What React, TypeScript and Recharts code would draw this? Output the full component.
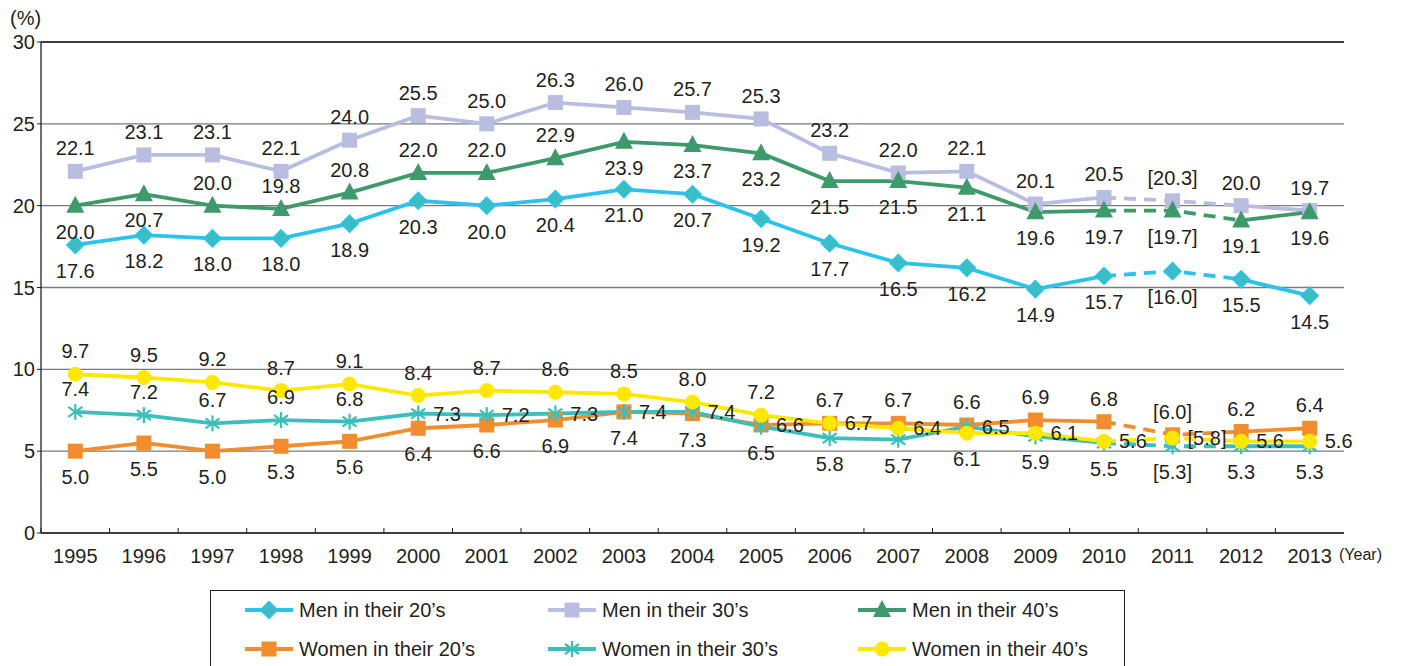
import React from 'react';
import { LineChart, Line, XAxis, YAxis, CartesianGrid, LabelList, ReferenceLine } from 'recharts';

// ---------- data ----------
const years = ['1995', '1996', '1997', '1998', '1999', '2000', '2001', '2002', '2003', '2004', '2005', '2006', '2007', '2008', '2009', '2010', '2011', '2012', '2013'];
const men20 = [17.6, 18.2, 18.0, 18.0, 18.9, 20.3, 20.0, 20.4, 21.0, 20.7, 19.2, 17.7, 16.5, 16.2, 14.9, 15.7, 16.0, 15.5, 14.5];
const men30 = [22.1, 23.1, 23.1, 22.1, 24.0, 25.5, 25.0, 26.3, 26.0, 25.7, 25.3, 23.2, 22.0, 22.1, 20.1, 20.5, 20.3, 20.0, 19.7];
const men40 = [20.0, 20.7, 20.0, 19.8, 20.8, 22.0, 22.0, 22.9, 23.9, 23.7, 23.2, 21.5, 21.5, 21.1, 19.6, 19.7, 19.7, 19.1, 19.6];
const women20 = [5.0, 5.5, 5.0, 5.3, 5.6, 6.4, 6.6, 6.9, 7.4, 7.3, 6.6, 6.7, 6.7, 6.6, 6.9, 6.8, 6.0, 6.2, 6.4];
const women30 = [7.4, 7.2, 6.7, 6.9, 6.8, 7.3, 7.2, 7.3, 7.4, 7.4, 6.5, 5.8, 5.7, 6.5, 5.9, 5.5, 5.3, 5.3, 5.3];
const women40 = [9.7, 9.5, 9.2, 8.7, 9.1, 8.4, 8.7, 8.6, 8.5, 8.0, 7.2, 6.7, 6.4, 6.1, 6.1, 5.6, 5.8, 5.6, 5.6];
const estimatedYears = ['2011'];
const dashedFrom = '2010';
const dashedTo = '2012';
const yTicks = [0, 5, 10, 15, 20, 25, 30];

// ---------- style ----------
const FONT = '"Liberation Sans", Arial, Helvetica, sans-serif';
const TEXT = '#231F20';
const CHART_W = 1402;
const CHART_H = 590;
const MARGIN = { top: 42, right: 58, left: 0, bottom: 27 };
const YAXIS_W = 41;
const BAND = (CHART_W - MARGIN.right - MARGIN.left - YAXIS_W) / years.length;

type Shape = 'diamond' | 'square' | 'triangle' | 'circle' | 'star';
type Place = 't' | 'b' | 'r';

const rep = (p: Place, n: number): Place[] => Array(n).fill(p);

interface Series {
  key: string;
  name: string;
  color: string;
  fill: string;
  values: number[];
  shape: Shape;
  place: Place[];
}

const series: Series[] = [
  { key: 'm30', name: 'Men in their 30’s', color: '#B9BDE0', fill: '#B9BDE0', values: men30, shape: 'square', place: rep('t', 19) },
  { key: 'm40', name: 'Men in their 40’s', color: '#3F9A6B', fill: '#3F9A6B', values: men40, shape: 'triangle', place: [...rep('b', 2), ...rep('t', 6), ...rep('b', 11)] },
  { key: 'm20', name: 'Men in their 20’s', color: '#2BC3EC', fill: '#3ABEC4', values: men20, shape: 'diamond', place: rep('b', 19) },
  { key: 'w20', name: 'Women in their 20’s', color: '#F28D2E', fill: '#F28D2E', values: women20, shape: 'square', place: [...rep('b', 10), 'r', ...rep('t', 8)] },
  { key: 'w30', name: 'Women in their 30’s', color: '#3CBFBA', fill: '#3CBFBA', values: women30, shape: 'star', place: [...rep('t', 5), ...rep('r', 5), ...rep('b', 3), 'r', ...rep('b', 5)] },
  { key: 'w40', name: 'Women in their 40’s', color: '#FFE800', fill: '#FFE800', values: women40, shape: 'circle', place: [...rep('t', 11), 'r', 'r', 'b', ...rep('r', 5)] },
];

const legendOrder = ['m20', 'm30', 'm40', 'w20', 'w30', 'w40'];

const iFrom = years.indexOf(dashedFrom);
const iTo = years.indexOf(dashedTo);

const data = years.map((y, i) => {
  const row: Record<string, any> = { year: y };
  series.forEach((s) => {
    row[s.key] = s.values[i];
    row[s.key + '_solid'] = i > iFrom && i < iTo ? null : s.values[i];
    row[s.key + '_dash'] = i >= iFrom && i <= iTo ? s.values[i] : null;
  });
  return row;
});

function Marker({ shape, cx, cy, color, fill }: { shape: Shape; cx: number; cy: number; color: string; fill: string }) {
  switch (shape) {
    case 'diamond':
      return <polygon points={`${cx},${cy - 8.5} ${cx + 8.5},${cy} ${cx},${cy + 8.5} ${cx - 8.5},${cy}`} fill={fill} stroke={color} strokeWidth={1.5} />;
    case 'square':
      return <rect x={cx - 7.5} y={cy - 7.5} width={15} height={15} fill={fill} />;
    case 'triangle':
      return <polygon points={`${cx},${cy - 10} ${cx + 9},${cy + 7} ${cx - 9},${cy + 7}`} fill={fill} />;
    case 'circle':
      return <circle cx={cx} cy={cy} r={7.5} fill={fill} />;
    case 'star':
      return (
        <g stroke={color} strokeWidth={2.2}>
          <line x1={cx} y1={cy - 8} x2={cx} y2={cy + 8} />
          <line x1={cx - 7} y1={cy - 5} x2={cx + 7} y2={cy + 5} />
          <line x1={cx - 7} y1={cy + 5} x2={cx + 7} y2={cy - 5} />
        </g>
      );
  }
  return null;
}

const makeDot = (s: Series) => (props: any) => {
  const { cx, cy, index } = props;
  if (cx == null || cy == null) return <g key={`d-${s.key}-${index}`} />;
  return (
    <g key={`d-${s.key}-${index}`}>
      <Marker shape={s.shape} cx={cx} cy={cy} color={s.color} fill={s.fill} />
    </g>
  );
};

const makeLabel = (s: Series) => (props: any) => {
  const { x, y, value, index } = props;
  if (value == null) return null;
  const p = s.place[index];
  const v = Number(value).toFixed(1);
  const txt = estimatedYears.includes(years[index]) ? `[${v}]` : v;
  let tx = x;
  let ty = y;
  let anchor: 'middle' | 'start' = 'middle';
  if (p === 't') ty = y - 23;
  else if (p === 'b') ty = y + 26;
  else {
    tx = x + 15;
    anchor = 'start';
  }
  return (
    <text key={`l-${s.key}-${index}`} x={tx} y={ty} textAnchor={anchor} dominantBaseline="central" fontSize={20} fill={TEXT} fontFamily={FONT}>
      {txt}
    </text>
  );
};

const XTick = (props: any) => {
  const { x, y, payload } = props;
  return (
    <g>
      <line x1={x - BAND / 2} x2={x - BAND / 2} y1={y} y2={y - 5} stroke={TEXT} strokeWidth={1} />
      <text x={x} y={y + 23} textAnchor="middle" dominantBaseline="central" fontSize={20} fill={TEXT} fontFamily={FONT}>
        {payload.value}
      </text>
    </g>
  );
};

function LegendIcon({ s }: { s: Series }) {
  return (
    <svg width={48} height={20} style={{ display: 'block' }}>
      <line x1={0} y1={10} x2={48} y2={10} stroke={s.color} strokeWidth={3.8} />
      <Marker shape={s.shape} cx={24} cy={10} color={s.color} fill={s.fill} />
    </svg>
  );
}

const legendCols = [245, 548, 858];
const legendRows = [610, 649];

export default function App() {
  return (
    <div style={{ position: 'absolute', left: 0, top: 0, width: 1402, height: 666, background: '#fff', overflow: 'hidden', fontFamily: FONT }}>
      <LineChart width={CHART_W} height={CHART_H} data={data} margin={MARGIN}>
        <CartesianGrid vertical={false} stroke="#7a7a7a" strokeWidth={1.3} />
        <ReferenceLine y={30} stroke={TEXT} strokeWidth={1.5} />
        <XAxis
          dataKey="year"
          scale="band"
          tick={<XTick />}
          tickLine={false}
          tickSize={0}
          tickMargin={0}
          height={30}
          axisLine={{ stroke: TEXT, strokeWidth: 1.3 }}
          interval={0}
        />
        <YAxis
          domain={[0, 30]}
          ticks={yTicks}
          width={YAXIS_W}
          tick={{ fontSize: 20, fill: TEXT, fontFamily: FONT }}
          tickSize={4}
          tickMargin={2}
          tickLine={{ stroke: TEXT }}
          axisLine={{ stroke: TEXT, strokeWidth: 1.3 }}
          interval={0}
        />
        <YAxis yAxisId="r" orientation="right" domain={[0, 30]} width={0} tick={false} tickLine={false} axisLine={{ stroke: TEXT, strokeWidth: 1.5 }} />
        {series.map((s) => [
          <Line key={s.key + '_solid'} dataKey={s.key + '_solid'} stroke={s.color} strokeWidth={3.8} dot={false} activeDot={false} connectNulls={false} isAnimationActive={false} />,
          <Line key={s.key + '_dash'} dataKey={s.key + '_dash'} stroke={s.color} strokeWidth={3.8} strokeDasharray="12 8" dot={false} activeDot={false} connectNulls={false} isAnimationActive={false} />,
          <Line key={s.key + '_mk'} dataKey={s.key} stroke="none" strokeWidth={0} dot={makeDot(s)} activeDot={false} isAnimationActive={false}>
            <LabelList dataKey={s.key} content={makeLabel(s)} />
          </Line>,
        ])}
      </LineChart>
      <div style={{ position: 'absolute', left: 10, top: 6, fontSize: 20, color: TEXT, lineHeight: '24px' }}>(%)</div>
      <div style={{ position: 'absolute', left: 1339, top: 545, fontSize: 16, color: TEXT, lineHeight: '20px' }}>(Year)</div>
      <div style={{ position: 'absolute', left: 210, top: 590, width: 915, height: 90, border: `1px solid ${TEXT}`, boxSizing: 'border-box' }} />
      {legendOrder.map((k, i) => {
        const s = series.find((x) => x.key === k)!;
        const col = i % 3;
        const row = Math.floor(i / 3);
        return (
          <div key={k} style={{ position: 'absolute', left: legendCols[col], top: legendRows[row] - 10, height: 20, display: 'flex', alignItems: 'center' }}>
            <LegendIcon s={s} />
            <span style={{ marginLeft: 6, fontSize: 20, color: TEXT, lineHeight: '20px', whiteSpace: 'nowrap' }}>{s.name}</span>
          </div>
        );
      })}
    </div>
  );
}
